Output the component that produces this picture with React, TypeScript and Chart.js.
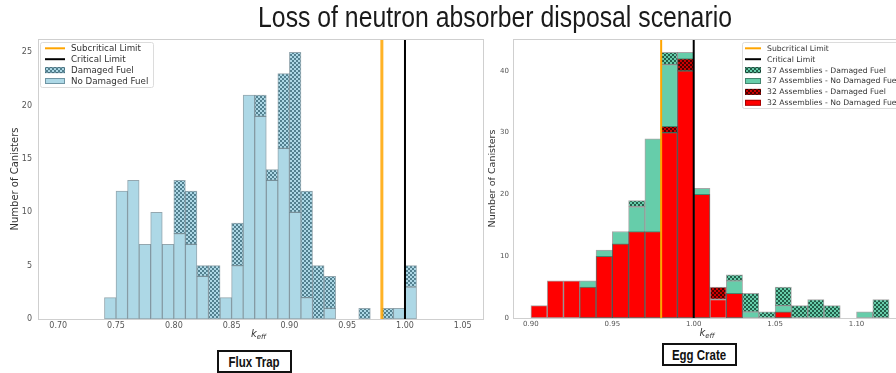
import React, { useEffect, useRef } from "react";
import { Chart, registerables } from "chart.js";

Chart.register(...registerables);

const BIN_WIDTH = 0.01;
const SUBCRITICAL_LIMIT = 0.98;
const CRITICAL_LIMIT = 1.0;

// ---- Flux Trap (left panel) ----
const FLUX_BIN_STARTS = [0.74, 0.75, 0.76, 0.77, 0.78, 0.79, 0.8, 0.81, 0.82, 0.83, 0.84, 0.85, 0.86, 0.87, 0.88, 0.89, 0.9, 0.91, 0.92, 0.93, 0.94, 0.95, 0.96, 0.97, 0.98, 0.99, 1.0];
const FLUX_NO_DAMAGED = [2, 12, 13, 7, 10, 7, 8, 7, 4, 0, 2, 5, 21, 19, 13, 16, 10, 2, 0, 1, 0, 0, 0, 0, 0, 1, 3];
const FLUX_DAMAGED = [0, 0, 0, 0, 0, 0, 5, 5, 1, 5, 0, 4, 0, 2, 1, 7, 15, 10, 5, 3, 0, 0, 1, 0, 1, 0, 2];
const FLUX_X_TICKS = [0.7, 0.75, 0.8, 0.85, 0.9, 0.95, 1.0, 1.05];
const FLUX_Y_TICKS = [0, 5, 10, 15, 20, 25];
const FLUX_LEGEND = ["Subcritical Limit", "Critical Limit", "Damaged Fuel", "No Damaged Fuel"];

// ---- Egg Crate (right panel) ----
const EGG_BIN_STARTS = [0.9, 0.91, 0.92, 0.93, 0.94, 0.95, 0.96, 0.97, 0.98, 0.99, 1.0, 1.01, 1.02, 1.03, 1.04, 1.05, 1.06, 1.07, 1.08, 1.09, 1.1, 1.11];
const EGG_37_NO_DAMAGED = [0, 0, 0, 6, 11, 14, 18, 29, 41, 43, 21, 0, 6, 1, 0, 2, 0, 0, 0, 0, 1, 0];
const EGG_37_DAMAGED = [0, 0, 0, 0, 0, 0, 1, 0, 2, 0, 0, 0, 1, 3, 1, 3, 2, 3, 2, 0, 0, 3];
const EGG_32_NO_DAMAGED = [2, 6, 6, 5, 10, 12, 14, 14, 30, 40, 20, 3, 4, 0, 0, 1, 0, 0, 0, 0, 0, 0];
const EGG_32_DAMAGED = [0, 0, 0, 0, 0, 0, 0, 0, 1, 2, 0, 2, 0, 0, 0, 0, 0, 0, 0, 0, 0, 0];
const EGG_X_TICKS = [0.9, 0.95, 1.0, 1.05, 1.1];
const EGG_Y_TICKS = [0, 10, 20, 30, 40];
const EGG_LEGEND = [
  "Subcritical Limit",
  "Critical Limit",
  "37 Assemblies - Damaged Fuel",
  "37 Assemblies - No Damaged Fuel",
  "32 Assemblies - Damaged Fuel",
  "32 Assemblies - No Damaged Fuel",
];

const TITLE = "Loss of neutron absorber disposal scenario";
const Y_TITLE = "Number of Canisters";
const CAPTIONS = ["Flux Trap", "Egg Crate"];

function segments(starts: number[], base: number[], counts: number[]) {
  return starts.map((s, i) => ({
    x: s + BIN_WIDTH / 2,
    y: counts[i] > 0 ? [base[i], base[i] + counts[i]] : null,
  }));
}

function hatch(bg: string, fg: string) {
  const c = document.createElement("canvas");
  c.width = 4;
  c.height = 4;
  const g = c.getContext("2d")!;
  g.fillStyle = bg;
  g.fillRect(0, 0, 4, 4);
  g.fillStyle = fg;
  g.fillRect(0, 0, 2, 2);
  g.fillRect(2, 2, 2, 2);
  return g.createPattern(c, "repeat")!;
}

type LegendEntry = { label: string; line?: string; fill?: any; stroke?: string };

function overlayPlugin(spec: any) {
  return {
    id: "overlay",
    afterDatasetsDraw(chart: any) {
      const { ctx, chartArea: a, scales } = chart;
      const x = scales.x;
      ctx.save();
      for (const l of spec.limits) {
        const px = x.getPixelForValue(l.value);
        ctx.strokeStyle = l.color;
        ctx.lineWidth = l.width;
        ctx.beginPath();
        ctx.moveTo(px, a.top);
        ctx.lineTo(px, a.bottom);
        ctx.stroke();
      }
      // frame
      ctx.strokeStyle = "#cfcfcf";
      ctx.lineWidth = 1;
      ctx.strokeRect(Math.round(a.left) + 0.5, Math.round(a.top) + 0.5, Math.round(a.right - a.left), Math.round(a.bottom - a.top));

      // legend
      const L = spec.legend;
      ctx.fillStyle = "rgba(255,255,255,0.85)";
      ctx.strokeStyle = "#dcdcdc";
      ctx.lineWidth = 1;
      ctx.beginPath();
      (ctx as any).roundRect(L.x + 0.5, L.y + 0.5, L.w, L.h, 2);
      ctx.fill();
      ctx.stroke();
      ctx.font = `${L.fontSize}px "DejaVu Sans"`;
      ctx.textBaseline = "middle";
      ctx.textAlign = "left";
      L.items.forEach((it: LegendEntry, i: number) => {
        const cy = L.rowY + i * L.rowGap;
        if (it.line) {
          ctx.strokeStyle = it.line;
          ctx.lineWidth = 2;
          ctx.beginPath();
          ctx.moveTo(L.handleX, cy);
          ctx.lineTo(L.handleX + L.handleW, cy);
          ctx.stroke();
        } else {
          ctx.fillStyle = it.fill;
          ctx.fillRect(L.handleX, cy - 3, L.handleW, 6);
          ctx.strokeStyle = it.stroke || "#555";
          ctx.lineWidth = 1;
          ctx.strokeRect(L.handleX + 0.5, cy - 2.5, L.handleW - 1, 5);
        }
        ctx.fillStyle = "#333";
        ctx.fillText(it.label, L.textX, cy + 0.5);
      });

      // k_eff axis label
      const cx = (a.left + a.right) / 2 + spec.keffShift;
      ctx.fillStyle = "#333";
      ctx.textBaseline = "alphabetic";
      ctx.font = `italic ${spec.keffSize}px "DejaVu Sans"`;
      const kw = ctx.measureText("k").width;
      ctx.font = `italic ${spec.keffSize * 0.7}px "DejaVu Sans"`;
      const ew = ctx.measureText("eff").width;
      const sx = cx - (kw + ew) / 2;
      ctx.font = `italic ${spec.keffSize}px "DejaVu Sans"`;
      ctx.fillText("k", sx, spec.keffY);
      ctx.font = `italic ${spec.keffSize * 0.7}px "DejaVu Sans"`;
      ctx.fillText("eff", sx + kw, spec.keffY + 2);
      ctx.restore();
    },
  };
}

function makeChart(canvas: HTMLCanvasElement, spec: any) {
  return new Chart(canvas, {
    type: "bar",
    data: { datasets: spec.datasets },
    options: {
      animation: false,
      responsive: false,
      devicePixelRatio: 1,
      events: [],
      layout: { padding: spec.padding },
      plugins: { legend: { display: false }, tooltip: { enabled: false }, title: { display: false } },
      datasets: { bar: { grouped: false, barPercentage: 1, categoryPercentage: 1, borderSkipped: false } as any },
      scales: {
        x: {
          type: "linear",
          min: spec.xMin,
          max: spec.xMax,
          offset: false,
          grid: { display: false, drawTicks: false, offset: false },
          border: { display: false },
          afterBuildTicks: (s: any) => {
            s.ticks = spec.xTicks.map((v: number) => ({ value: v }));
          },
          afterFit: (s: any) => {
            s.height = spec.xAxisHeight;
          },
          ticks: {
            autoSkip: false,
            maxRotation: 0,
            padding: spec.xTickPad,
            color: "#555",
            font: { family: "DejaVu Sans", size: spec.tickSize },
            callback: (v: any) => Number(v).toFixed(2),
          },
        },
        y: {
          type: "linear",
          min: 0,
          max: spec.yMax,
          grid: { display: false, drawTicks: false },
          border: { display: false },
          afterBuildTicks: (s: any) => {
            s.ticks = spec.yTicks.map((v: number) => ({ value: v }));
          },
          afterFit: (s: any) => {
            s.width = spec.yAxisWidth;
          },
          ticks: {
            padding: spec.yTickPad,
            color: "#555",
            font: { family: "DejaVu Sans", size: spec.tickSize },
            callback: (v: any) => String(v),
          },
          title: {
            display: true,
            text: Y_TITLE,
            color: "#333",
            font: { family: "DejaVu Sans", size: spec.yTitleSize },
            padding: { top: spec.yTitlePad, bottom: 0 },
          },
        },
      },
    } as any,
    plugins: [overlayPlugin(spec)],
  });
}

export default function App() {
  const leftRef = useRef<HTMLCanvasElement>(null);
  const rightRef = useRef<HTMLCanvasElement>(null);

  useEffect(() => {
    const blueHatch = hatch("#add8e6", "#52808f");
    const greenHatch = hatch("#66cdaa", "#235f4a");
    const redHatch = hatch("#cc0000", "#4a0000");
    const zerosF = FLUX_BIN_STARTS.map(() => 0);
    const zerosE = EGG_BIN_STARTS.map(() => 0);
    const blueEdge = "rgba(60,95,110,0.55)";
    const darkEdge = "rgba(0,0,0,0.35)";

    const left = makeChart(leftRef.current!, {
      padding: { left: 0, top: 39, right: 7, bottom: 0 },
      xMin: 0.6825,
      xMax: 1.0675,
      yMax: 26.25,
      xTicks: FLUX_X_TICKS,
      yTicks: FLUX_Y_TICKS,
      xAxisHeight: 54,
      yAxisWidth: 38,
      xTickPad: 2,
      yTickPad: 6,
      tickSize: 8,
      yTitleSize: 10,
      yTitlePad: 9,
      keffShift: -2,
      keffSize: 10,
      keffY: 337,
      limits: [
        { value: SUBCRITICAL_LIMIT, color: "rgba(255,165,0,0.85)", width: 3 },
        { value: CRITICAL_LIMIT, color: "#000", width: 2 },
      ],
      legend: {
        x: 40, y: 42, w: 113, h: 45, rowY: 48.3, rowGap: 10.9, handleX: 45, handleW: 20, textX: 71, fontSize: 8.7,
        items: [
          { label: FLUX_LEGEND[0], line: "#FFA500" },
          { label: FLUX_LEGEND[1], line: "#000" },
          { label: FLUX_LEGEND[2], fill: blueHatch, stroke: blueEdge },
          { label: FLUX_LEGEND[3], fill: "#add8e6", stroke: blueEdge },
        ],
      },
      datasets: [
        { label: FLUX_LEGEND[2], data: segments(FLUX_BIN_STARTS, FLUX_NO_DAMAGED, FLUX_DAMAGED), backgroundColor: blueHatch, borderColor: blueEdge, borderWidth: 1 },
        { label: FLUX_LEGEND[3], data: segments(FLUX_BIN_STARTS, zerosF, FLUX_NO_DAMAGED), backgroundColor: "#add8e6", borderColor: blueEdge, borderWidth: 1 },
      ],
    });

    const right = makeChart(rightRef.current!, {
      padding: { left: 0, top: 39, right: 13, bottom: 0 },
      xMin: 0.889,
      xMax: 1.131,
      yMax: 45.15,
      xTicks: EGG_X_TICKS,
      yTicks: EGG_Y_TICKS,
      xAxisHeight: 55,
      yAxisWidth: 43,
      xTickPad: 2,
      yTickPad: 4,
      tickSize: 7,
      yTitleSize: 9.5,
      yTitlePad: 17,
      keffShift: -3,
      keffSize: 10,
      keffY: 336,
      limits: [
        { value: SUBCRITICAL_LIMIT, color: "#FFA500", width: 2 },
        { value: CRITICAL_LIMIT, color: "#000", width: 2 },
      ],
      legend: {
        x: 272, y: 42, w: 165, h: 66, rowY: 48.3, rowGap: 10.9, handleX: 275, handleW: 16, textX: 297, fontSize: 7.7,
        items: [
          { label: EGG_LEGEND[0], line: "#FFA500" },
          { label: EGG_LEGEND[1], line: "#000" },
          { label: EGG_LEGEND[2], fill: greenHatch, stroke: darkEdge },
          { label: EGG_LEGEND[3], fill: "#66cdaa", stroke: darkEdge },
          { label: EGG_LEGEND[4], fill: redHatch, stroke: darkEdge },
          { label: EGG_LEGEND[5], fill: "#ff0000", stroke: darkEdge },
        ],
      },
      datasets: [
        { label: EGG_LEGEND[4], data: segments(EGG_BIN_STARTS, EGG_32_NO_DAMAGED, EGG_32_DAMAGED), backgroundColor: redHatch, borderColor: darkEdge, borderWidth: 1 },
        { label: EGG_LEGEND[5], data: segments(EGG_BIN_STARTS, zerosE, EGG_32_NO_DAMAGED), backgroundColor: "#ff0000", borderColor: darkEdge, borderWidth: 1 },
        { label: EGG_LEGEND[2], data: segments(EGG_BIN_STARTS, EGG_37_NO_DAMAGED, EGG_37_DAMAGED), backgroundColor: greenHatch, borderColor: darkEdge, borderWidth: 1 },
        { label: EGG_LEGEND[3], data: segments(EGG_BIN_STARTS, zerosE, EGG_37_NO_DAMAGED), backgroundColor: "#66cdaa", borderColor: darkEdge, borderWidth: 1 },
      ],
    });

    return () => {
      left.destroy();
      right.destroy();
    };
  }, []);

  const captionStyle: React.CSSProperties = {
    position: "absolute",
    width: 75,
    height: 23,
    boxSizing: "border-box",
    border: "2px solid #111",
    background: "#fff",
    display: "flex",
    alignItems: "center",
    justifyContent: "center",
    font: 'bold 14px "Liberation Sans", sans-serif',
    color: "#111",
  };
  const narrow: React.CSSProperties = { display: "inline-block", transform: "scaleX(0.82)", whiteSpace: "nowrap" };

  return (
    <div style={{ position: "fixed", left: 0, top: 0, width: 896, height: 373, overflow: "hidden", background: "#fff" }}>
      <canvas ref={leftRef} width={490} height={373} style={{ position: "absolute", left: 0, top: 0, width: 490, height: 373 }} />
      <canvas ref={rightRef} width={450} height={373} style={{ position: "absolute", left: 470, top: 0, width: 450, height: 373 }} />
      <div
        style={{
          position: "absolute",
          top: 2,
          left: 495,
          transform: "translateX(-50%) scaleX(0.826)",
          whiteSpace: "nowrap",
          font: '30px "Liberation Sans", sans-serif',
          lineHeight: "30px",
          color: "#1a1a1a",
        }}
      >
        {TITLE}
      </div>
      <div style={{ ...captionStyle, left: 217, top: 350 }}>
        <span style={narrow}>{CAPTIONS[0]}</span>
      </div>
      <div style={{ ...captionStyle, left: 662, top: 343 }}>
        <span style={narrow}>{CAPTIONS[1]}</span>
      </div>
    </div>
  );
}
